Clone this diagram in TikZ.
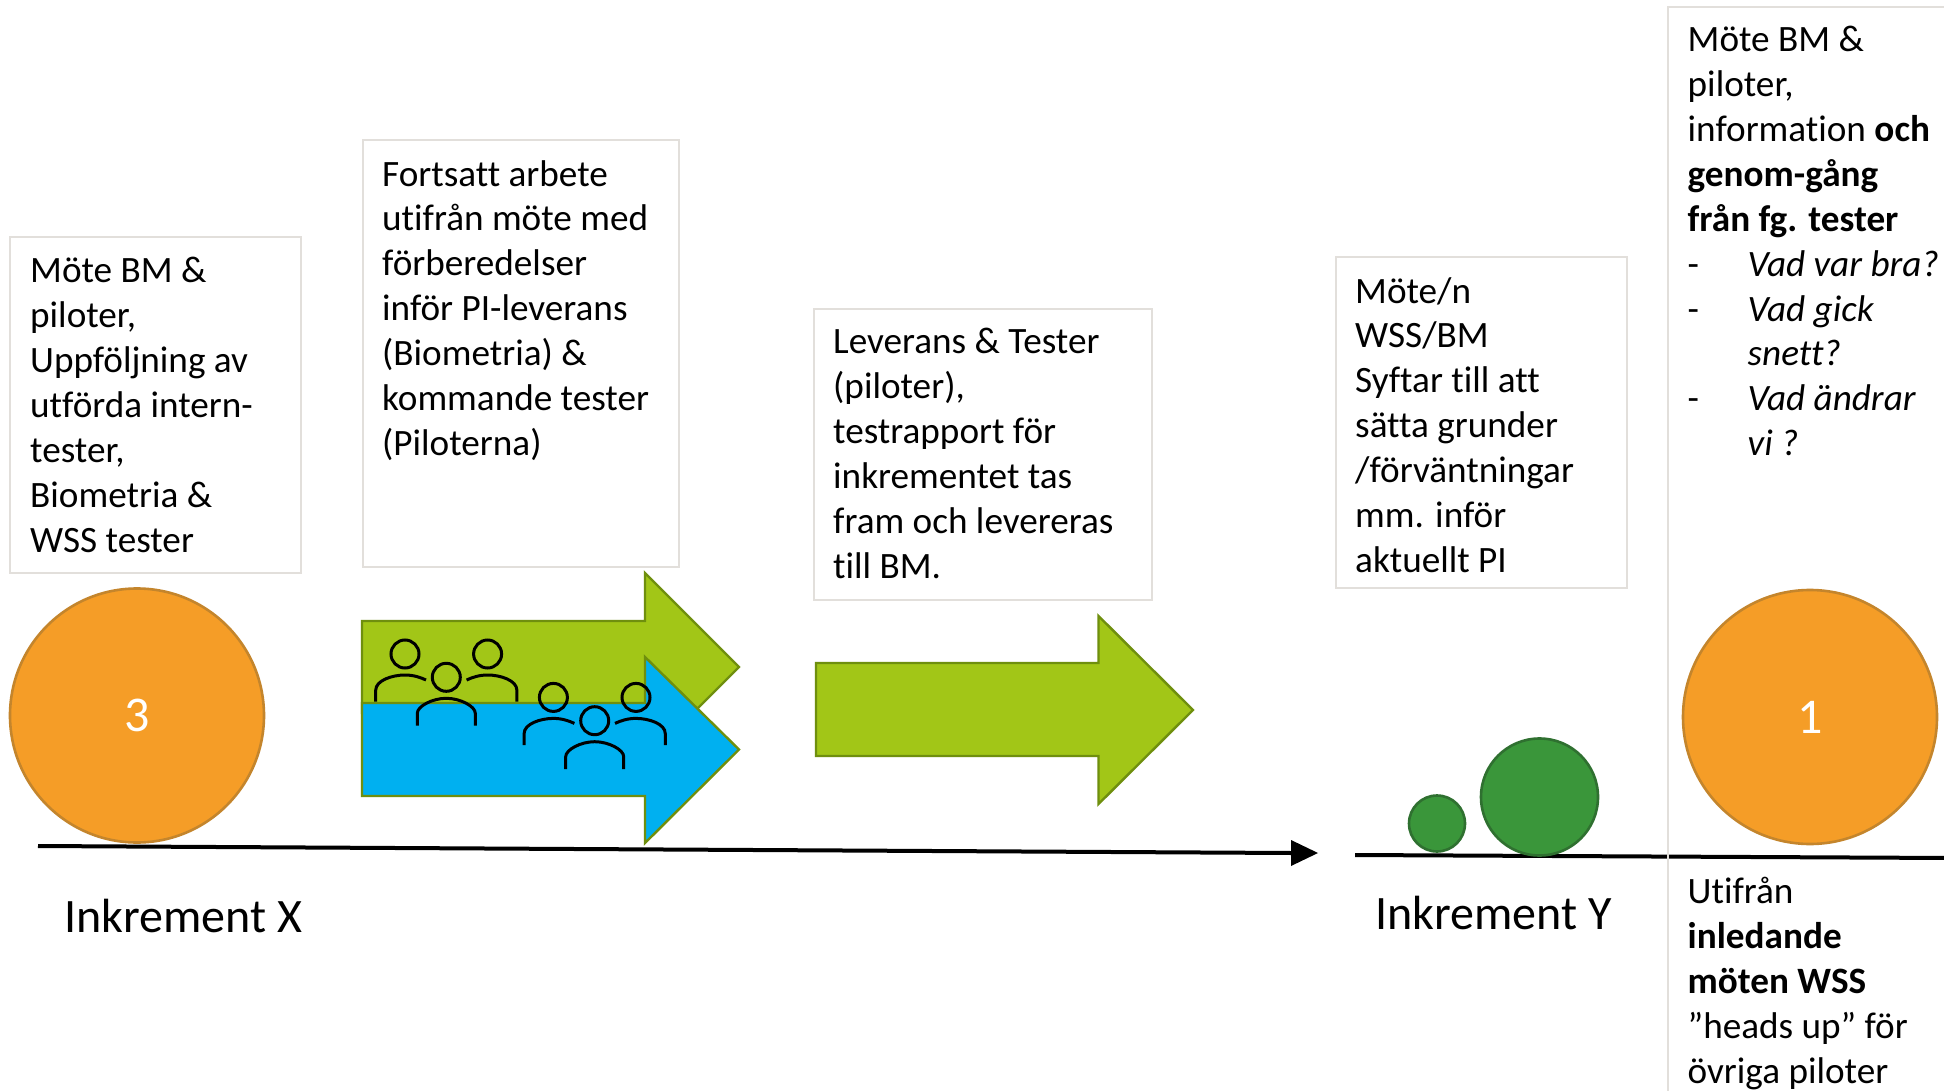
\documentclass[tikz,border=0pt]{standalone}
\usepackage{fontspec}
\setmainfont{Carlito}[Ligatures=CommonOff]
\definecolor{boxgrey}{HTML}{E2DFDB}
\definecolor{arrowgreen}{HTML}{A2C617}
\definecolor{arrowline}{HTML}{6F8F0E}
\definecolor{arrowblue}{HTML}{00B0F0}
\definecolor{ballorange}{HTML}{F59D27}
\definecolor{ballline}{HTML}{C4852C}
\definecolor{ballgreen}{HTML}{3A963A}
\definecolor{ballgreenline}{HTML}{2F7030}
\newcommand{\bodysize}{\fontsize{37.2}{44.9}\selectfont}
\newcommand{\dashitem}{\makebox[60pt][l]{-}}
\tikzset{
  infobox/.style={draw=boxgrey,line width=2pt,fill=white,anchor=north west,inner sep=0pt},
  infotext/.style={anchor=north west,align=left,inner sep=0pt,font=\bodysize},
  ball/.style={circle,draw=ballline,line width=2.6pt,fill=ballorange,inner sep=0pt,minimum size=254pt,text=white,font=\fontsize{50}{56}\selectfont},
  greenball/.style={circle,draw=ballgreenline,line width=2.6pt,fill=ballgreen,inner sep=0pt},
  axisline/.style={draw=black,line width=4pt},
  headlabel/.style={anchor=west,inner sep=0pt,font=\fontsize{48}{56}\selectfont},
  greenarrow/.style={draw=arrowline,line width=2.4pt,fill=arrowgreen,line join=miter},
  bluearrow/.style={draw=arrowline,line width=2.4pt,fill=arrowblue,line join=miter},
  person/.style={draw=black,line width=3pt}
}
\newcommand{\peoplegroup}[3]{%
  \begin{scope}[shift={(#1,#2)}]
    \node[person,circle,inner sep=0pt,minimum size=28pt] (#3h) at (0,0) {};
    \node[person,circle,inner sep=0pt,minimum size=28pt] (#3l) at (-41.3,-23.3) {};
    \node[person,circle,inner sep=0pt,minimum size=28pt] (#3r) at (41.3,-23.3) {};
    \draw[person] (-70.6,24.4) -- (-70.6,13) .. controls (-70.6,3) and (-54,-2.3) .. (-41.3,-2.3) .. controls (-33,-2.3) and (-26,0) .. (-20.3,2.7);
    \draw[person] (70.6,24.4) -- (70.6,13) .. controls (70.6,3) and (54,-2.3) .. (41.3,-2.3) .. controls (33,-2.3) and (26,0) .. (20.3,2.7);
    \draw[person] (-29,48.4) -- (-29,36) .. controls (-29,29) and (-14,21) .. (0,21) .. controls (14,21) and (29,29) .. (29,36) -- (29,48.4);
  \end{scope}}
\begin{document}
\begin{tikzpicture}[x=1pt,y=-1pt]
\useasboundingbox (0,0) rectangle (1944,1091);
\clip (0,0) rectangle (1944,1091);
\fill[white] (0,0) rectangle (1944,1091);

% axis
\coordinate (axAs) at (38,846);
\coordinate (axAe) at (1291,853);
\coordinate (axAt) at (1318,853);
\coordinate (axBs) at (1355,855);
\coordinate (axBe) at (1950,858);
\draw[axisline] (axAs) -- (axAe);
\fill[black] (1291,840) -- (axAt) -- (1291,866) -- cycle;
\draw[axisline] (axBs) -- (axBe);

% boxes
\node[infobox,minimum width=291pt,minimum height=336pt] (boxA) at (9,236) {};
\node[infobox,minimum width=316pt,minimum height=427pt] (boxB) at (362,139) {};
\node[infobox,minimum width=338pt,minimum height=291pt] (boxC) at (813,308) {};
\node[infobox,minimum width=291pt,minimum height=331pt] (boxD) at (1335,256) {};
\draw[boxgrey,line width=2pt] (1950,7) -- (1668,7) -- (1668,1095);

\node[infotext] (txtA) at (30,257) {Möte BM \&\\piloter,\\Uppföljning av\\utförda intern-\\tester,\\Biometria \&\\WSS tester};
\node[infotext] (txtB) at (382,160) {Fortsatt arbete\\utifrån möte med\\förberedelser\\inför PI-leverans\\(Biometria) \&\\kommande tester\\(Piloterna)};
\node[infotext] (txtC) at (833,328) {Leverans \& Tester\\(piloter),\\testrapport för\\inkrementet tas\\fram och levereras\\till BM.};
\node[infotext] (txtD) at (1355,277) {Möte/n\\WSS/BM\\Syftar till att\\sätta grunder\\/förväntningar\\mm. inför\\aktuellt PI};
\node[infotext] (txtE) at (1687.5,26) {Möte BM \&\\piloter,\\information \textbf{och}\\\textbf{genom-gång}\\\textbf{från fg. tester}\\\dashitem\textit{Vad var bra?}\\\dashitem\textit{Vad gick}\\\hspace*{60pt}\textit{snett?}\\\dashitem\textit{Vad ändrar}\\\hspace*{60pt}\textit{vi ?}};
\node[infotext] (txtF) at (1687.5,877) {Utifrån\\\textbf{inledande}\\\textbf{möten WSS}\\”heads up” för\\övriga piloter};

% balls
\node[ball] (ball3) at (137,715.5) {\raisebox{-2pt}{3}};
\node[ball] (ball1) at (1810,717) {\raisebox{-2pt}{1}};
\node[greenball,minimum size=56pt] (small) at (1437,823.5) {};
\node[greenball,minimum size=117pt] (big) at (1539.5,797) {};

% arrows
\draw[greenarrow] (362,621) -- (645,621) -- (645,573) -- (739,667) -- (645,761) -- (645,713) -- (362,713) -- cycle;
\draw[bluearrow] (362,703) -- (645,703) -- (645,657) -- (739,749.5) -- (645,843) -- (645,796) -- (362,796) -- cycle;
\peoplegroup{446.3}{677.3}{pa}
\peoplegroup{594.7}{720.7}{pb}
\draw[greenarrow] (816,663) -- (1098.5,663) -- (1098.5,616) -- (1193,710) -- (1098.5,804) -- (1098.5,756) -- (816,756) -- cycle;

% labels
\node[headlabel] (incX) at (64,916) {Inkrement X};
\node[headlabel] (incY) at (1375,913) {Inkrement Y};
\end{tikzpicture}
\end{document}
